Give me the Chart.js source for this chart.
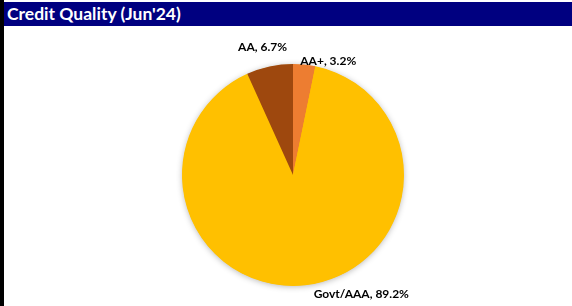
<!DOCTYPE html>
<html>
<head>
<meta charset="utf-8">
<script src="https://cdn.jsdelivr.net/npm/chart.js@4.4.0/dist/chart.umd.min.js"></script>
<style>
    html, body { margin: 0; padding: 0; background: #fff; }
    #wrap { position: relative; width: 572px; height: 306px; overflow: hidden; background: #fff; }
    #leftBorder { position: absolute; left: 0; top: 0; width: 4px; height: 306px; background: #000; }
    #header { position: absolute; left: 4px; top: 2px; width: 568px; height: 24px; background: #000080; color: #fff;
        font-family: 'Lato', 'Open Sans', sans-serif; font-weight: bold; font-size: 17.5px; line-height: 24px; padding-left: 3px; box-sizing: border-box; }
    #chartBox { position: absolute; left: 0; top: 0; width: 572px; height: 306px; }
</style>
</head>
<body>
<div id="wrap">
    <div id="leftBorder"></div>
    <div id="header">Credit Quality (Jun'24)</div>
    <div id="chartBox"><canvas id="creditChart"></canvas></div>
</div>
<script>
const categories = ['AA+', 'Govt/AAA', 'AA'];
const shares = [3.2, 89.2, 6.7];
const sliceColors = ['#ED7D31', '#FFC000', '#9E480E'];

// label nudge from the slice's outer edge point (px)
const labelNudge = [[24, -3], [56, 9], [-7, -19]];

const outsideLabels = {
    id: 'outsideLabels',
    afterDatasetsDraw(chart) {
        const ctx = chart.ctx;
        const meta = chart.getDatasetMeta(0);
        ctx.save();
        ctx.font = 'bold 12px Lato, "Open Sans", sans-serif';
        ctx.fillStyle = '#000';
        ctx.textAlign = 'center';
        ctx.textBaseline = 'middle';
        meta.data.forEach((arc, i) => {
            const p = arc.getProps(['x', 'y', 'startAngle', 'endAngle', 'outerRadius'], true);
            const mid = (p.startAngle + p.endAngle) / 2;
            const x = p.x + Math.cos(mid) * p.outerRadius + labelNudge[i][0];
            const y = p.y + Math.sin(mid) * p.outerRadius + labelNudge[i][1];
            ctx.fillText(categories[i] + ', ' + shares[i].toFixed(1) + '%', x, y);
        });
        ctx.restore();
    }
};

// one soft shadow under the whole pie, so slice edges stay clean
const pieShadow = {
    id: 'pieShadow',
    beforeDatasetsDraw(chart) {
        const arc = chart.getDatasetMeta(0).data[0];
        if (!arc) return;
        const ctx = chart.ctx;
        ctx.save();
        ctx.shadowColor = 'rgba(0,0,0,0.3)';
        ctx.shadowBlur = 6;
        ctx.shadowOffsetY = 1;
        ctx.fillStyle = '#FFC000';
        ctx.beginPath();
        ctx.arc(arc.x, arc.y, arc.outerRadius - 0.5, 0, Math.PI * 2);
        ctx.fill();
        ctx.restore();
    }
};

new Chart(document.getElementById('creditChart').getContext('2d'), {
    type: 'pie',
    data: {
        labels: categories,
        datasets: [{ data: shares, backgroundColor: sliceColors, borderWidth: 0 }]
    },
    options: {
        responsive: true,
        maintainAspectRatio: false,
        animation: false,
        layout: { padding: { top: 64, bottom: 20, left: 14, right: 0 } },
        plugins: { legend: { display: false }, tooltip: { enabled: false } }
    },
    plugins: [pieShadow, outsideLabels]
});
</script>
</body>
</html>
